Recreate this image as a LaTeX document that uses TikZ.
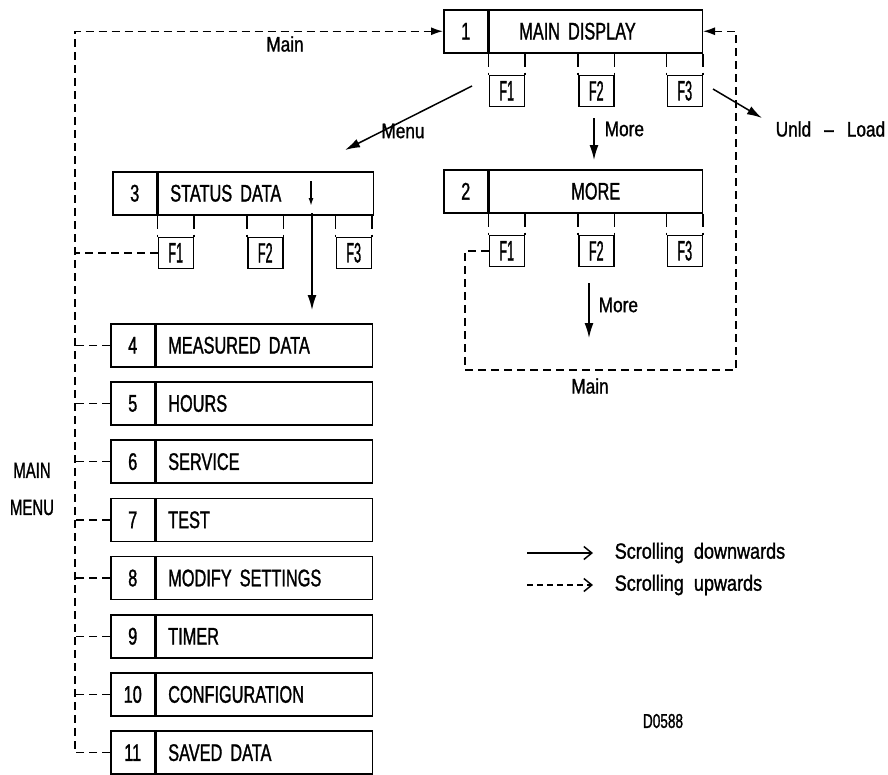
\documentclass[tikz,border=0pt]{standalone}
\usepackage{fontspec}
\setmainfont{Liberation Sans}[FakeStretch=0.68,WordSpace=2.5,FakeBold=1.2]
\newfontfamily\lcfont{Liberation Sans}[FakeStretch=0.82,WordSpace=2,FakeBold=1.2]
\newfontfamily\fkfont{Liberation Sans}[FakeStretch=0.45,FakeBold=1]
\usetikzlibrary{arrows.meta,positioning}
\tikzset{
  numcell/.style={draw,minimum width=44pt,minimum height=43pt,inner sep=0pt},
  namecell/.style={draw,minimum height=43pt,inner xsep=12pt,inner ysep=0pt,text width=#1,align=left},
  fkey/.style={draw,minimum width=35pt,minimum height=31pt,inner sep=0pt,font=\fkfont\fontsize{28}{30}\selectfont},
  upline/.style={dash pattern=on 8pt off 5pt},
  tabline/.style={dash pattern=on 13pt off 6pt},
  fwd/.style={-{Latex[length=15pt,width=9pt]}},
  lbl/.style={inner sep=0pt,font=\lcfont\fontsize{21}{24}\selectfont},
}
\begin{document}
\begin{tikzpicture}[x=1pt,y=-1pt,line width=1.5pt,font=\fontsize{24}{26}\selectfont]
\useasboundingbox (0,0) rectangle (888,774);
% display boxes
\node[numcell,anchor=north west] (n1) at (443,9) {1};
\node[namecell=189pt,anchor=north west] (t1) at (n1.north east) {\hspace*{18pt}MAIN DISPLAY};
\node[numcell,anchor=north west] (n2) at (443,169) {2};
\node[namecell=189pt,align=center,anchor=north west] (t2) at (n2.north east) {MORE};
\node[numcell,anchor=north west] (n3) at (112,171) {3};
\node[namecell=191pt,anchor=north west] (t3) at (n3.north east) {STATUS DATA};
% menu items
\foreach \i/\txt [count=\k from 0] in {4/MEASURED DATA,5/HOURS,6/SERVICE,7/TEST,
    8/MODIFY SETTINGS,9/TIMER,10/CONFIGURATION,11/SAVED DATA}{
  \node[numcell,anchor=north west] (n\i) at (110,{323+58.2*\k}) {\i};
  \node[namecell=192pt,anchor=north west] (t\i) at (n\i.north east) {\txt};
}
% function keys
\foreach \b in {1,2,3}{
  \foreach \f/\dx in {1/0,2/89.5,3/178}{
    \node[fkey,anchor=north west] (f\b\f) at ([xshift=\dx pt,yshift=-21pt]t\b.south west) {F\f};
    \draw[tabline] (f\b\f.north west |- t\b.south) -- (f\b\f.north west)
                   (f\b\f.north east |- t\b.south) -- (f\b\f.north east);
  }
}
% scrolling up to main display
\coordinate (rail) at ([xshift=-35pt]n11.west);
\draw[upline,-{Latex[length=12pt,width=8pt]}] (n11.west) -- (rail) |- (n1.west);
\foreach \i in {4,...,10} \draw[upline] (n\i.west) -- (n\i.west -| rail);
\draw[upline] (f31.west) -- (f31.west -| rail);
\node[lbl] (main1) at (285,44) {Main};
\coordinate (loopbl) at (465,370);
\coordinate (loopbr) at (736,370);
\draw[upline,-{Latex[length=12pt,width=8pt]}] (f21.west) -| (loopbl) -- (loopbr) |- (t1.east);
\node[lbl] (main2) at (590,386) {Main};
% scrolling down
\coordinate (menus) at (472,86);
\coordinate (menue) at (345,150);
\draw[fwd] (menus) -- (menue);
\node[lbl] (menu) at (403,131) {Menu};
\coordinate (more1s) at (594,118);
\coordinate (more1e) at (594,160);
\draw[fwd] (more1s) -- (more1e);
\node[lbl,anchor=west] (more1) at (604,129) {More};
\coordinate (unlds) at (713,89);
\coordinate (unlde) at (762,118);
\draw[fwd] (unlds) -- (unlde);
\node[lbl,anchor=west] (unld) at (775,129) {Unld \,–\, Load};
\coordinate (more2s) at (589,283);
\coordinate (more2e) at (589,338);
\draw[fwd] (more2s) -- (more2e);
\node[lbl,anchor=west] (more2) at (598,305) {More};
\coordinate (sds) at (311,181);
\coordinate (sde) at (311,206);
\draw[-{Latex[length=8pt,width=5pt]}] (sds) -- (sde);
\coordinate (sdd) at (312,213);
\draw[fwd] (sdd) -- ([yshift=13pt]sdd |- n4.north);
\node[inner sep=0pt,align=center,font=\fontsize{22}{24}\selectfont] (mainmenu) at (32,489) {MAIN\\[13pt]MENU};
% legend
\coordinate (lgd1) at (527,553);
\coordinate (lgd2) at (527,585);
\draw[-{Straight Barb[length=8pt,width=13pt]}] (lgd1) -- ++(66,0);
\draw[dash pattern=on 6pt off 4pt,-{Straight Barb[length=8pt,width=13pt]}] (lgd2) -- ++(66,0);
\node[lbl,anchor=west,font=\lcfont\fontsize{22}{24}\selectfont] (down) at (614,553) {Scrolling downwards};
\node[lbl,anchor=west,font=\lcfont\fontsize{22}{24}\selectfont] (up) at (614,585) {Scrolling upwards};
\node[inner sep=0pt,font=\fontsize{20}{22}\selectfont] (code) at (663,721) {D0588};
\end{tikzpicture}
\end{document}
